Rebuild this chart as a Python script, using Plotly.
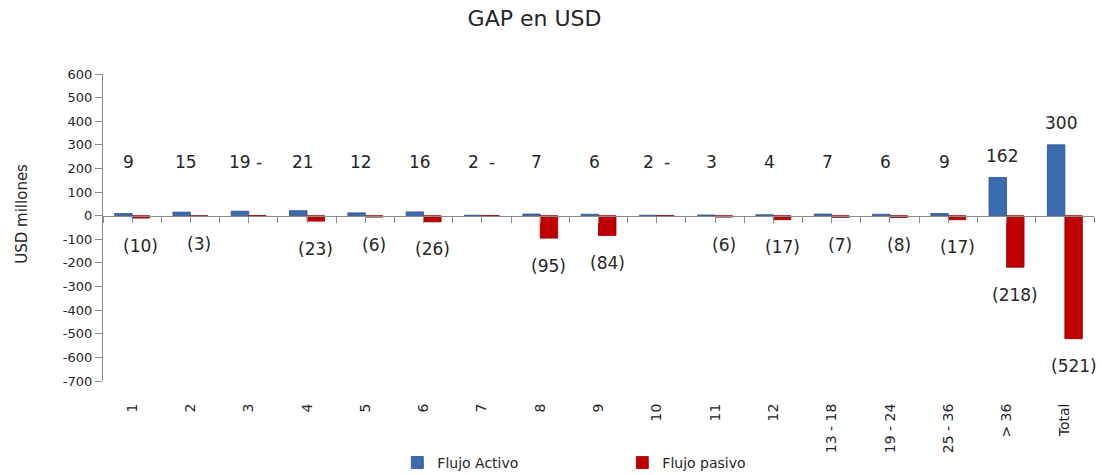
import plotly.graph_objects as go

# Maturity buckets (months) and cash flows in USD millions
categories = ["1", "2", "3", "4", "5", "6", "7", "8", "9", "10", "11", "12",
              "13 - 18", "19 - 24", "25 - 36", "> 36", "Total"]
flujo_activo = [9, 15, 19, 21, 12, 16, 2, 7, 6, 2, 3, 4, 7, 6, 9, 162, 300]
flujo_pasivo = [-10, -3, 0, -23, -6, -26, 0, -95, -84, 0, -6, -17, -7, -8, -17, -218, -521]
y_ticks = list(range(-700, 601, 100))

BLUE = "#3A6BAE"
RED = "#C00000"
FONT = "DejaVu Sans"
TEXT = "#262626"

idx = list(range(len(categories)))
y_min, y_max = -700, 600
zero_frac = (0 - y_min) / (y_max - y_min)

fig = go.Figure()
fig.add_trace(go.Bar(
    x=idx, y=flujo_activo, name="Flujo Activo",
    width=0.3, offset=-0.3,
    marker=dict(color=BLUE, line=dict(color="#2A4F86", width=0.8)),
))
fig.add_trace(go.Bar(
    x=idx, y=flujo_pasivo, name="Flujo pasivo",
    width=0.3, offset=0.0,
    marker=dict(color=RED, line=dict(color="#8E0000", width=0.8)),
))
# helper trace so the zero-line axis is drawn
fig.add_trace(go.Scatter(x=[-0.5, 16.5], y=[0, 0], xaxis="x2", mode="lines",
                         line=dict(width=0), showlegend=False, hoverinfo="skip"))


def fmt(v):
    if v < 0:
        return f"({abs(v)})"
    if v == 0:
        return "-"
    return str(v)


annotations = []
for i, (a, p) in enumerate(zip(flujo_activo, flujo_pasivo)):
    ax = i - 0.15 if p == 0 else i - 0.07
    annotations.append(dict(x=ax, y=max(a + 92, 228), text=fmt(a)))
    if p < 0:
        annotations.append(dict(x=i + 0.15, y=p - 117, text=fmt(p)))
    else:
        annotations.append(dict(x=i + 0.17, y=max(p + 92, 228), text=fmt(p)))
for an in annotations:
    an.update(xref="x", yref="y", showarrow=False, yanchor="middle",
              xanchor="center", font=dict(family=FONT, size=17, color=TEXT))

# vertical axis title
annotations.append(dict(text="USD millones", textangle=-90, showarrow=False,
                        xref="paper", yref="paper", x=-0.082, y=0.544,
                        xanchor="center", yanchor="middle",
                        font=dict(family=FONT, size=15, color=TEXT)))

fig.update_layout(
    width=1109, height=475,
    margin=dict(l=103, r=15, t=74, b=94, autoexpand=False),
    paper_bgcolor="white", plot_bgcolor="white",
    barmode="overlay",
    title=dict(text="GAP en USD", x=0.482, xref="container", xanchor="center",
               y=0.962, yref="container", yanchor="middle",
               font=dict(family=FONT, size=22, color=TEXT)),
    xaxis=dict(range=[-0.5, 16.5], tickmode="array", tickvals=idx, ticktext=categories,
               tickangle=-90, showline=False, showgrid=False, zeroline=False,
               ticks="outside", ticklen=16, tickcolor="rgba(0,0,0,0)", automargin=False,
               tickfont=dict(family=FONT, size=14, color=TEXT)),
    xaxis2=dict(range=[-0.5, 16.5], overlaying="x", anchor="free", position=zero_frac,
                side="bottom", showline=True, linecolor="#8C8C8C", linewidth=1.3,
                ticks="outside", ticklen=6, tickcolor="#8C8C8C", tickwidth=1.3,
                tickmode="linear", tick0=-0.5, dtick=0.5, showticklabels=False,
                showgrid=False, zeroline=False, automargin=False),
    yaxis=dict(range=[y_min, y_max], tickmode="array", tickvals=y_ticks,
               ticktext=[str(v) for v in y_ticks],
               showline=True, linecolor="#8C8C8C", linewidth=1.3,
               ticks="outside", ticklen=7, tickcolor="#8C8C8C", tickwidth=1.3,
               showgrid=False, zeroline=False, automargin=False,
               tickfont=dict(family=FONT, size=13, color=TEXT)),
    legend=dict(orientation="h", x=0.297, xanchor="left", y=-0.267, yanchor="middle",
                entrywidth=180, font=dict(family=FONT, size=14, color=TEXT),
                bgcolor="rgba(0,0,0,0)"),
    annotations=annotations,
    showlegend=True,
)

fig.write_html("out.html")
